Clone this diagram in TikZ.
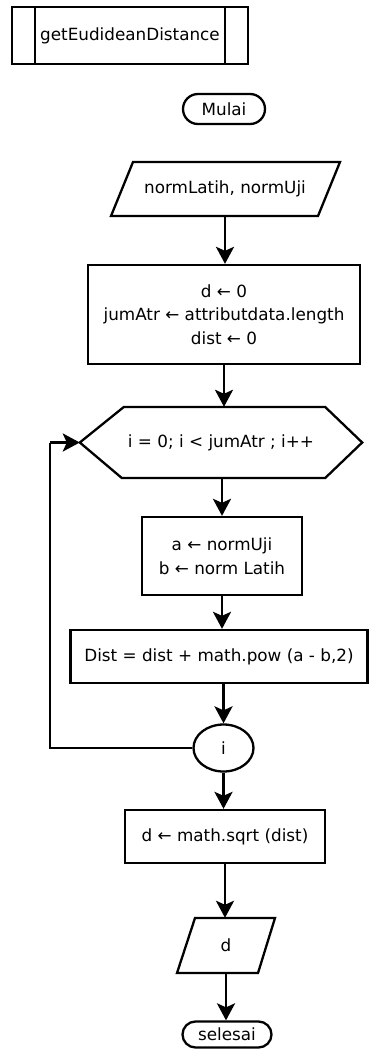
\documentclass[tikz,border=0pt]{standalone}
\usepackage{fontspec}
\setmainfont{DejaVu Sans}
\usetikzlibrary{arrows.meta,shapes.misc,shapes.geometric,calc}
\begin{document}
\begin{tikzpicture}[x=1pt,y=-1pt,
  font=\fontsize{16.8}{23.5}\selectfont,
  shp/.style={draw,line width=2.3pt,inner sep=0pt,align=center},
  boxnode/.style={shp,rectangle},
  term/.style={shp,rounded rectangle},
  ghost/.style={inner sep=0pt,align=center},
  arr/.style={line width=2.8pt,-{Stealth[length=17pt 0,width=18pt 0,inset=4pt 0]}},
  loopline/.style={line width=2.3pt}]
\useasboundingbox (0,0) rectangle (369,1055);
\fill[white] (0,0) rectangle (369,1055);

% predefined process
\node[boxnode,minimum width=236,minimum height=57] (pp) at (130,35.5) {getEudideanDistance};
\draw[line width=2.3pt] ([xshift=24]pp.north west) -- ([xshift=24]pp.south west);
\draw[line width=2.3pt] ([xshift=-24]pp.north east) -- ([xshift=-24]pp.south east);

% start
\node[term,minimum width=82,minimum height=30] (start) at (224,109) {Mulai};

% input
\node[ghost,minimum width=228,minimum height=54] (in) at (225,189) {normLatih, normUji};
\draw[line width=2.3pt] ($(in.center)+(-92,-27)$) -- ($(in.center)+(115,-27)$) -- ($(in.center)+(93,27)$) -- ($(in.center)+(-114,27)$) -- cycle;

% init box
\node[boxnode,minimum width=272,minimum height=99] (init) at (224,314.5) {d ← 0\\jumAtr ← attributdata.length\\dist ← 0};

% loop hexagon
\node[ghost,minimum width=282,minimum height=71] (loop) at (221,442.5) {i = 0; i < jumAtr ; i++};
\draw[line width=2.3pt] (loop.west) -- ($(loop.west)+(44,-35.5)$) -- ($(loop.east)+(-37,-35.5)$) -- (loop.east) -- ($(loop.east)+(-37,35.5)$) -- ($(loop.west)+(42,35.5)$) -- cycle;

% assign box
\node[boxnode,minimum width=160,minimum height=78] (ab) at (222,556) {a ← normUji\\b ← norm Latih};

% dist box
\node[boxnode,minimum width=297,minimum height=53] (dist) at (219,656.5) {Dist = dist + math.pow (a - b,2)};

% connector circle
\node[shp,ellipse,minimum width=60,minimum height=47] (ci) at (223.5,748) {i};

% sqrt box
\node[boxnode,minimum width=200,minimum height=53] (sq) at (225,836.5) {d ← math.sqrt (dist)};

% output
\node[ghost,minimum width=98,minimum height=55] (out) at (226,945.5) {d};
\draw[line width=2.3pt] ($(out.center)+(-31,-27.5)$) -- ($(out.center)+(49,-27.5)$) -- ($(out.center)+(32,27.5)$) -- ($(out.center)+(-49,27.5)$) -- cycle;

% end
\node[term,minimum width=89,minimum height=26] (end) at (227,1034.5) {selesai};

% connectors
\draw[arr] (in.south) -- (in.south |- init.north);
\draw[arr] (init.south) -- (init.south |- loop.north);
\draw[arr] (ab.north |- loop.south) -- (ab.north);
\draw[arr] (ab.south) -- (ab.south |- dist.north);
\draw[arr] (ci.north |- dist.south) -- (ci.north);
\draw[arr] (ci.south) -- (ci.south |- sq.north);
\draw[arr] (sq.south) -- (sq.south |- out.north);
\draw[arr] (out.south) -- (out.south |- end.north);
\coordinate (lp) at (50,442.5);
\draw[loopline] (ci.west) -| (lp);
\draw[arr] (lp) -- (loop.west);
\end{tikzpicture}
\end{document}
